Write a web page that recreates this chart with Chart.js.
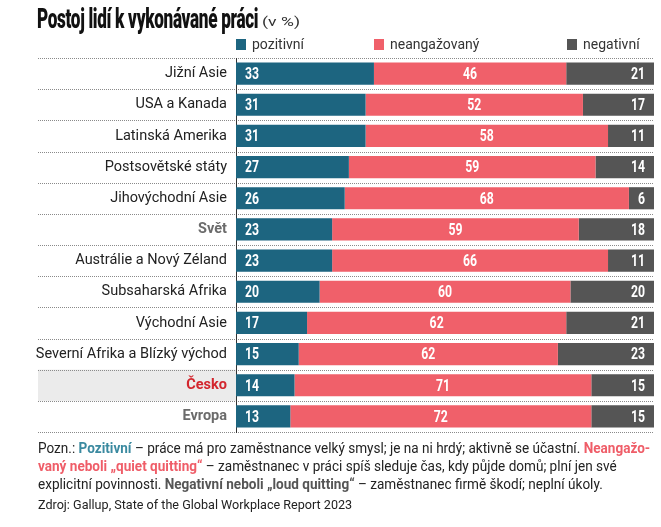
<!DOCTYPE html>
<html lang="cs">
<head>
<meta charset="utf-8">
<script src="https://cdn.jsdelivr.net/npm/chart.js@4/dist/chart.umd.min.js"></script>
<style>
  html, body { margin: 0; padding: 0; background: #fff; }
  body { width: 661px; height: 527px; position: relative; overflow: hidden; font-family: Roboto, "Liberation Sans", sans-serif; color: #222; }
  #chart { position: absolute; left: 0; top: 0; }
  .fit { position: absolute; white-space: nowrap; transform-origin: 0 0; }
  #title { left: 37px; top: 3px; font-size: 27px; font-weight: 900; letter-spacing: -0.5px; color: #111; }
  #unit { left: 262px; top: 14px; font-size: 13px; color: #333; }
  .leg { position: absolute; top: 36px; font-size: 14px; color: #333; white-space: nowrap; }
  .leg i { display: inline-block; width: 10px; height: 11px; margin-right: 6px; vertical-align: -1px; }
  #note { left: 38px; top: 439px; font-size: 14px; line-height: 18px; color: #222; }
  #note b.p { color: #3b8aa0; }
  #note b.n { color: #ef5d68; }
  #note b.g { color: #555; }
  #src { left: 38px; top: 497px; font-size: 13px; color: #222; }
</style>
</head>
<body>
<canvas id="chart" width="661" height="527"></canvas>
<div id="title" class="fit">Postoj lidí k vykonávané práci</div>
<div id="unit" class="fit">(v %)</div>
<div id="legend"></div>
<div id="note" class="fit">Pozn.: <b class="p">Pozitivní</b> – práce má pro zaměstnance velký smysl; je na ni hrdý; aktivně se účastní. <b class="n">Neangažo-</b><br><b class="n">vaný neboli „quiet quitting“</b> – zaměstnanec v práci spíš sleduje čas, kdy půjde domů; plní jen své<br>explicitní povinnosti. <b class="g">Negativní neboli „loud quitting“</b> – zaměstnanec firmě škodí; neplní úkoly.</div>
<div id="src" class="fit">Zdroj: Gallup, State of the Global Workplace Report 2023</div>
<script>
const categories = ['Jižní Asie', 'USA a Kanada', 'Latinská Amerika', 'Postsovětské státy', 'Jihovýchodní Asie', 'Svět',
  'Austrálie a Nový Zéland', 'Subsaharská Afrika', 'Východní Asie', 'Severní Afrika a Blízký východ', 'Česko', 'Evropa'];
const seriesNames = ['pozitivní', 'neangažovaný', 'negativní'];
const pozitivni = [33, 31, 31, 27, 26, 23, 23, 20, 17, 15, 14, 13];
const neangazovany = [46, 52, 58, 59, 68, 59, 66, 60, 62, 62, 71, 72];
const negativni = [21, 17, 11, 14, 6, 18, 11, 20, 21, 23, 15, 15];

const colors = ['#1d6580', '#f0606a', '#555555'];
const legendX = [236, 374, 567];

// squeeze text blocks to the widths of the printed condensed font
function fit(id, w) {
  const el = document.getElementById(id);
  el.style.transform = 'scaleX(' + (w / el.scrollWidth) + ')';
}
fit('title', 221);
fit('unit', 38);
fit('note', 612);
fit('src', 314);

const legendBox = document.getElementById('legend');
seriesNames.forEach((name, i) => {
  const d = document.createElement('div');
  d.className = 'leg';
  d.style.left = legendX[i] + 'px';
  d.innerHTML = '<i style="background:' + colors[i] + '"></i>' + name;
  legendBox.appendChild(d);
});

function rowEdges(scale) {
  const n = categories.length;
  const step = (scale.bottom - scale.top) / n;
  return Array.from({length: n + 1}, (_, i) => scale.top + i * step);
}

const backdrop = {
  id: 'backdrop',
  beforeDraw(chart) {
    const ctx = chart.ctx, y = chart.scales.y, area = chart.chartArea;
    const edges = rowEdges(y);
    const ci = categories.indexOf('Česko');
    ctx.save();
    ctx.fillStyle = '#ebebeb';
    ctx.fillRect(38, edges[ci], area.left - 38, edges[ci + 1] - edges[ci]);
    ctx.strokeStyle = '#8a8a8a';
    ctx.lineWidth = 1;
    ctx.setLineDash([1, 1]);
    edges.forEach(e => {
      const yy = Math.round(e) + 0.5;
      ctx.beginPath();
      ctx.moveTo(38, yy);
      ctx.lineTo(area.right, yy);
      ctx.stroke();
    });
    ctx.restore();
  }
};

const valueLabels = {
  id: 'valueLabels',
  afterDatasetsDraw(chart) {
    const ctx = chart.ctx;
    ctx.save();
    ctx.fillStyle = '#fff';
    ctx.font = 'bold 17px Roboto, "Liberation Sans", sans-serif';
    ctx.textBaseline = 'middle';
    const sx = 0.72;
    chart.data.datasets.forEach((ds, di) => {
      chart.getDatasetMeta(di).data.forEach((bar, i) => {
        const txt = String(ds.data[i]);
        const w = ctx.measureText(txt).width * sx;
        let x;
        if (di === 0) x = bar.base + 9;
        else if (di === 1) x = (bar.base + bar.x) / 2 - w / 2;
        else x = bar.x - 9 - w;
        ctx.save();
        ctx.translate(x, bar.y + 1);
        ctx.scale(sx, 1);
        ctx.fillText(txt, 0, 0);
        ctx.restore();
      });
    });
    ctx.restore();
  }
};

const special = {'Svět': '#6b6b6b', 'Evropa': '#6b6b6b', 'Česko': '#d3262e'};

new Chart(document.getElementById('chart'), {
  type: 'bar',
  data: {
    labels: categories,
    datasets: [
      {label: seriesNames[0], data: pozitivni, backgroundColor: colors[0]},
      {label: seriesNames[1], data: neangazovany, backgroundColor: colors[1]},
      {label: seriesNames[2], data: negativni, backgroundColor: colors[2]}
    ]
  },
  options: {
    indexAxis: 'y',
    responsive: false,
    animation: false,
    layout: {padding: {top: 58, bottom: 95, right: 7, left: 0}},
    datasets: {bar: {barPercentage: 0.71, categoryPercentage: 1, borderWidth: 0}},
    scales: {
      x: {stacked: true, min: 0, max: 100, display: false},
      y: {
        stacked: true,
        afterFit(scale) { scale.width = 236; },
        grid: {display: false, drawTicks: false},
        border: {display: true, color: '#333', width: 1},
        ticks: {
          padding: 9,
          color: ctx => special[categories[ctx.index]] || '#222',
          font: ctx => ({
            family: 'Roboto, "Liberation Sans", sans-serif',
            size: 14.5,
            weight: special[categories[ctx.index]] ? 'bold' : 'normal'
          })
        }
      }
    },
    plugins: {
      legend: {display: false},
      tooltip: {enabled: false}
    }
  },
  plugins: [backdrop, valueLabels]
});
</script>
</body>
</html>
